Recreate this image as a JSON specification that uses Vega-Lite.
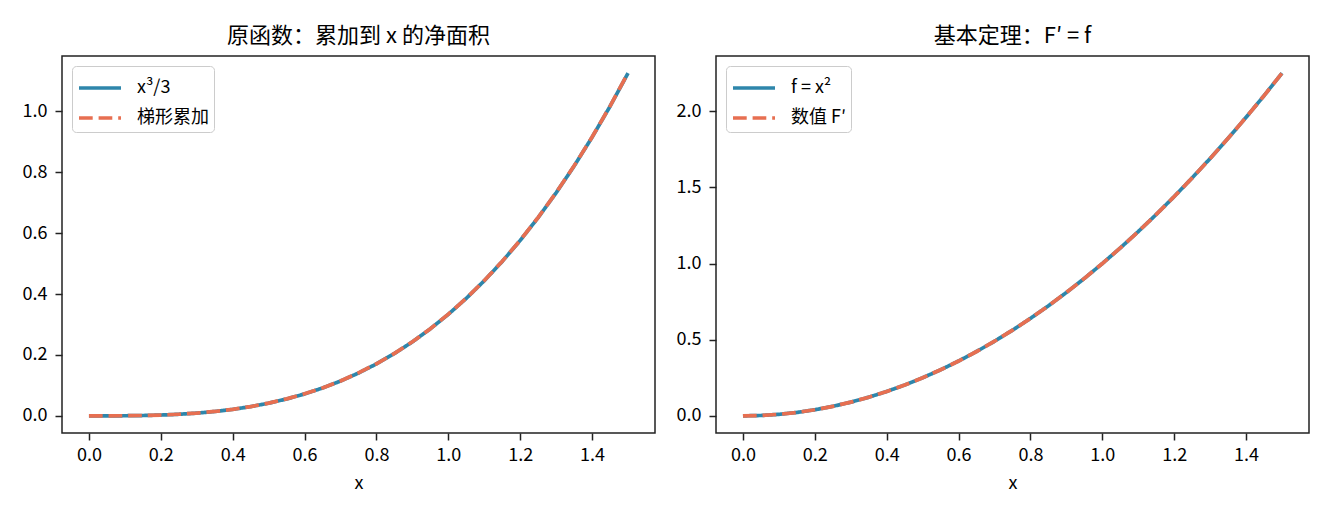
{
  "$schema": "https://vega.github.io/schema/vega-lite/v6.json",
  "padding": {"left": 21, "top": 24, "right": 5, "bottom": 5},
  "background": "white",
  "datasets": {
    "area": [
      {"x": 0.0, "exact": 0.0, "trap": 0.0},
      {"x": 0.05, "exact": 0.00004, "trap": 0.00006},
      {"x": 0.1, "exact": 0.00033, "trap": 0.00038},
      {"x": 0.15, "exact": 0.00113, "trap": 0.00119},
      {"x": 0.2, "exact": 0.00267, "trap": 0.00275},
      {"x": 0.25, "exact": 0.00521, "trap": 0.00531},
      {"x": 0.3, "exact": 0.009, "trap": 0.00913},
      {"x": 0.35, "exact": 0.01429, "trap": 0.01444},
      {"x": 0.4, "exact": 0.02133, "trap": 0.0215},
      {"x": 0.45, "exact": 0.03038, "trap": 0.03056},
      {"x": 0.5, "exact": 0.04167, "trap": 0.04188},
      {"x": 0.55, "exact": 0.05546, "trap": 0.05569},
      {"x": 0.6, "exact": 0.072, "trap": 0.07225},
      {"x": 0.65, "exact": 0.09154, "trap": 0.09181},
      {"x": 0.7, "exact": 0.11433, "trap": 0.11463},
      {"x": 0.75, "exact": 0.14063, "trap": 0.14094},
      {"x": 0.8, "exact": 0.17067, "trap": 0.171},
      {"x": 0.85, "exact": 0.20471, "trap": 0.20506},
      {"x": 0.9, "exact": 0.243, "trap": 0.24338},
      {"x": 0.95, "exact": 0.28579, "trap": 0.28619},
      {"x": 1.0, "exact": 0.33333, "trap": 0.33375},
      {"x": 1.05, "exact": 0.38588, "trap": 0.38631},
      {"x": 1.1, "exact": 0.44367, "trap": 0.44413},
      {"x": 1.15, "exact": 0.50696, "trap": 0.50744},
      {"x": 1.2, "exact": 0.576, "trap": 0.5765},
      {"x": 1.25, "exact": 0.65104, "trap": 0.65156},
      {"x": 1.3, "exact": 0.73233, "trap": 0.73288},
      {"x": 1.35, "exact": 0.82013, "trap": 0.82069},
      {"x": 1.4, "exact": 0.91467, "trap": 0.91525},
      {"x": 1.45, "exact": 1.01621, "trap": 1.01681},
      {"x": 1.5, "exact": 1.125, "trap": 1.12563}
    ],
    "deriv": [
      {"x": 0.0, "f": 0.0, "dF": 0.0},
      {"x": 0.05, "f": 0.0025, "dF": 0.0025},
      {"x": 0.1, "f": 0.01, "dF": 0.01},
      {"x": 0.15, "f": 0.0225, "dF": 0.0225},
      {"x": 0.2, "f": 0.04, "dF": 0.04},
      {"x": 0.25, "f": 0.0625, "dF": 0.0625},
      {"x": 0.3, "f": 0.09, "dF": 0.09},
      {"x": 0.35, "f": 0.1225, "dF": 0.1225},
      {"x": 0.4, "f": 0.16, "dF": 0.16},
      {"x": 0.45, "f": 0.2025, "dF": 0.2025},
      {"x": 0.5, "f": 0.25, "dF": 0.25},
      {"x": 0.55, "f": 0.3025, "dF": 0.3025},
      {"x": 0.6, "f": 0.36, "dF": 0.36},
      {"x": 0.65, "f": 0.4225, "dF": 0.4225},
      {"x": 0.7, "f": 0.49, "dF": 0.49},
      {"x": 0.75, "f": 0.5625, "dF": 0.5625},
      {"x": 0.8, "f": 0.64, "dF": 0.64},
      {"x": 0.85, "f": 0.7225, "dF": 0.7225},
      {"x": 0.9, "f": 0.81, "dF": 0.81},
      {"x": 0.95, "f": 0.9025, "dF": 0.9025},
      {"x": 1.0, "f": 1.0, "dF": 1.0},
      {"x": 1.05, "f": 1.1025, "dF": 1.1025},
      {"x": 1.1, "f": 1.21, "dF": 1.21},
      {"x": 1.15, "f": 1.3225, "dF": 1.3225},
      {"x": 1.2, "f": 1.44, "dF": 1.44},
      {"x": 1.25, "f": 1.5625, "dF": 1.5625},
      {"x": 1.3, "f": 1.69, "dF": 1.69},
      {"x": 1.35, "f": 1.8225, "dF": 1.8225},
      {"x": 1.4, "f": 1.96, "dF": 1.96},
      {"x": 1.45, "f": 2.1025, "dF": 2.1025},
      {"x": 1.5, "f": 2.25, "dF": 2.25}
    ]
  },
  "spacing": 61,
  "bounds": "flush",
  "hconcat": [
    {
      "width": 593,
      "height": 377,
      "title": "原函数：累加到 x 的净面积",
      "data": {"name": "area"},
      "transform": [{"fold": ["exact", "trap"], "as": ["series", "value"]}],
      "mark": {"type": "line", "strokeWidth": 3.7},
      "encoding": {
        "x": {
          "field": "x", "type": "quantitative", "title": "x",
          "scale": {"domain": [-0.075, 1.575], "nice": false, "zero": false},
          "axis": {"values": [0, 0.2, 0.4, 0.6, 0.8, 1.0, 1.2, 1.4], "format": ".1f", "labelPadding": 6, "titlePadding": 10}
        },
        "y": {
          "field": "value", "type": "quantitative", "title": null,
          "scale": {"domain": [-0.05625, 1.18125], "nice": false, "zero": false},
          "axis": {"values": [0, 0.2, 0.4, 0.6, 0.8, 1.0], "format": ".1f"}
        },
        "color": {
          "field": "series", "type": "nominal",
          "scale": {"domain": ["exact", "trap"], "range": ["#2E86AB", "#E76F51"]},
          "legend": {"title": null, "labelExpr": "datum.label == 'exact' ? 'x³/3' : '梯形累加'"}
        },
        "strokeDash": {
          "field": "series", "type": "nominal",
          "scale": {"domain": ["exact", "trap"], "range": [[1, 0], [13.7, 5.9]]},
          "legend": {"title": null, "labelExpr": "datum.label == 'exact' ? 'x³/3' : '梯形累加'"}
        }
      }
    },
    {
      "width": 593,
      "height": 377,
      "title": "基本定理：F′ = f",
      "data": {"name": "deriv"},
      "transform": [{"fold": ["f", "dF"], "as": ["series", "value"]}],
      "mark": {"type": "line", "strokeWidth": 3.7},
      "encoding": {
        "x": {
          "field": "x", "type": "quantitative", "title": "x",
          "scale": {"domain": [-0.075, 1.575], "nice": false, "zero": false},
          "axis": {"values": [0, 0.2, 0.4, 0.6, 0.8, 1.0, 1.2, 1.4], "format": ".1f", "labelPadding": 6, "titlePadding": 10}
        },
        "y": {
          "field": "value", "type": "quantitative", "title": null,
          "scale": {"domain": [-0.1125, 2.3625], "nice": false, "zero": false},
          "axis": {"values": [0, 0.5, 1.0, 1.5, 2.0], "format": ".1f"}
        },
        "color": {
          "field": "series", "type": "nominal",
          "scale": {"domain": ["f", "dF"], "range": ["#2E86AB", "#E76F51"]},
          "legend": {"title": null, "labelExpr": "datum.label == 'f' ? 'f = x²' : '数值 F′'"}
        },
        "strokeDash": {
          "field": "series", "type": "nominal",
          "scale": {"domain": ["f", "dF"], "range": [[1, 0], [13.7, 5.9]]},
          "legend": {"title": null, "labelExpr": "datum.label == 'f' ? 'f = x²' : '数值 F′'"}
        }
      }
    }
  ],
  "resolve": {
    "scale": {"x": "independent", "y": "independent", "color": "independent", "strokeDash": "independent"},
    "legend": {"color": "independent", "strokeDash": "independent"}
  },
  "config": {
    "font": "Noto Sans CJK SC",
    "view": {"stroke": "#222222", "strokeWidth": 1.5},
    "axis": {
      "domain": false,
      "grid": false,
      "tickSize": 7,
      "tickWidth": 1.5,
      "tickColor": "#222222",
      "labelPadding": 8,
      "labelFont": "Noto Sans CJK SC",
      "labelFontSize": 18,
      "labelColor": "#000000",
      "titleFont": "Noto Sans CJK SC",
      "titleFontSize": 18,
      "titleFontWeight": "normal",
      "titleColor": "#000000",
      "titlePadding": 6
    },
    "title": {"font": "Noto Sans CJK SC", "fontSize": 22, "fontWeight": "normal", "color": "#000000", "offset": 8},
    "legend": {
      "orient": "top-left",
      "offset": 10,
      "padding": 5,
      "strokeColor": "#cccccc",
      "fillColor": "rgba(255,255,255,0.8)",
      "cornerRadius": 4,
      "symbolType": "M-1,0H1.8",
      "symbolSize": 900,
      "symbolStrokeWidth": 3.7,
      "labelFont": "Noto Sans CJK SC",
      "labelFontSize": 18,
      "labelColor": "#000000",
      "labelOffset": 26,
      "rowPadding": 4
    }
  }
}
